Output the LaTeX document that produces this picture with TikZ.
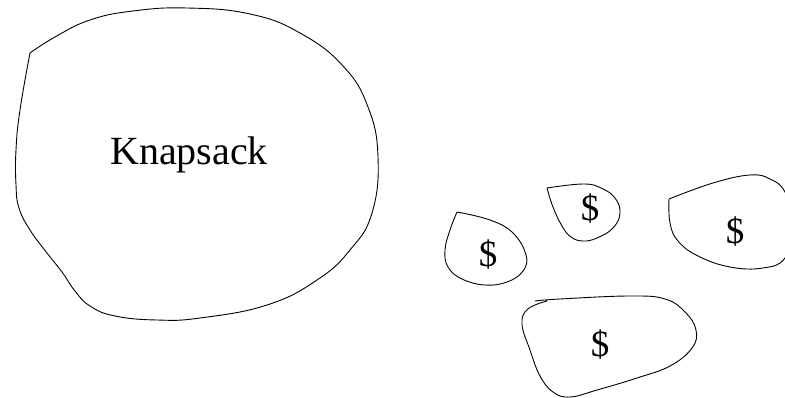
\documentclass[tikz,border=0pt]{standalone}
\usepackage{fontspec}
\setmainfont{Liberation Serif}
\begin{document}
\begin{tikzpicture}[x=1pt,y=-1pt,
  blob/.style={draw=black,line width=0.9pt,line join=round},
  bigtext/.style={font=\fontsize{40}{48}\selectfont},
  dollar/.style={font=\fontsize{37}{42}\selectfont}]
\clip (0,0) rectangle (785,398);
\useasboundingbox (0,0) rectangle (785,398);
% Knapsack blob
\draw[blob] plot[smooth,tension=0.75] coordinates {
 (30,53) (55,37) (90,20) (133,11) (187,8) (250,14) (300,33) (343,66)
 (368,107) (378,157) (372,213) (350,250) (317,280) (267,305) (200,318)
 (157,320) (115,316) (90,306) (75,291) (62,272) (47,253) (30,230)
 (19,208) (16,185) (16,150) (20,110) (30,53)};
\node[bigtext] (knap) at (189,155) {Knapsack};
% blob A
\draw[blob] plot[smooth,tension=0.7] coordinates {
 (457,212) (490,220) (513,233) (526,255) (523,271) (507,282) (485,285)
 (462,279) (448,267) (445,250) (450,230) (457,212)};
\node[dollar] (dA) at (488,255) {\$};
% blob B
\draw[blob] plot[smooth,tension=0.7] coordinates {
 (547,188) (583,184) (601,188) (615,198) (620,213) (613,228) (597,238)
 (583,241) (571,237) (562,226) (553,207) (547,188)};
\node[dollar] (dB) at (590,209) {\$};
% blob C
\draw[blob] plot[smooth,tension=0.7] coordinates {
 (669,199) (713,183) (750,175) (770,179) (785,192) (796,225) (785,258)
 (763,268) (730,267) (698,256) (678,241) (670,223) (669,199)};
\node[dollar] (dC) at (735,232) {\$};
% blob D
\draw[blob] plot[smooth,tension=0.7] coordinates {
 (535,301) (560,299) (630,296) (665,299) (685,312) (696,330) (692,348)
 (670,366) (637,378) (597,390) (570,397) (553,392) (540,376) (530,350)
 (522,324) (528,309) (547,301)};
\node[dollar] (dD) at (600,345) {\$};
\end{tikzpicture}
\end{document}
